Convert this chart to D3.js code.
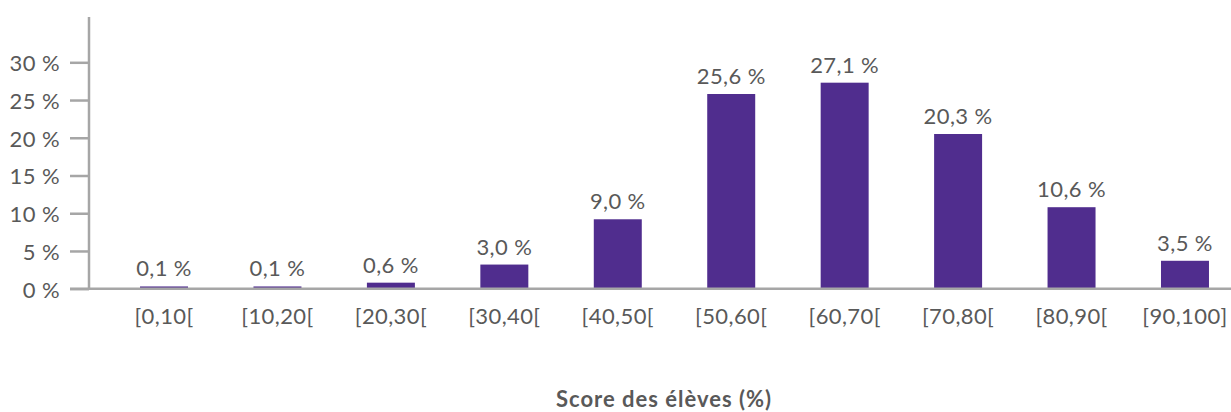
<!DOCTYPE html>
<html><head><meta charset="utf-8">
<script src="https://cdn.jsdelivr.net/npm/d3@7"></script>
<style>body{margin:0;background:#fff}text{font-family:Lato,"Open Sans",sans-serif}</style>
</head><body>
<svg id="c" width="1231" height="412"></svg>
<script>
const categories = ["[0,10[","[10,20[","[20,30[","[30,40[","[40,50[","[50,60[","[60,70[","[70,80[","[80,90[","[90,100]"];
const values = [0.1,0.1,0.6,3.0,9.0,25.6,27.1,20.3,10.6,3.5];
const labels = ["0,1 %","0,1 %","0,6 %","3,0 %","9,0 %","25,6 %","27,1 %","20,3 %","10,6 %","3,5 %"];
const yTicks = [0,5,10,15,20,25,30];
const xTitle = "Score des élèves (%)";

const svg = d3.select("#c");
const grey = "#a6a6a6", txt = "#595959", barCol = "#502d8e";
const F = "Lato,'Open Sans',sans-serif";
const FS = 22;
const y = d3.scaleLinear().domain([0,30]).range([288.7,62.3]);
const x = d3.scaleBand().domain(categories).range([107.3,1241.7]).paddingInner(0.577).paddingOuter(0.2885);

// bars
svg.selectAll("rect.bar").data(values).join("rect")
  .attr("x",(d,i)=>x(categories[i])).attr("width",x.bandwidth())
  .attr("y",d=>y(d)-1.5).attr("height",d=>y(0)-y(d)+1.5)
  .attr("fill",barCol);

// x axis baseline
svg.append("line").attr("x1",70).attr("x2",1231).attr("y1",y(0)).attr("y2",y(0))
  .attr("stroke",grey).attr("stroke-width",2.5);
// y axis
svg.append("line").attr("x1",89).attr("x2",89).attr("y1",17).attr("y2",y(0))
  .attr("stroke",grey).attr("stroke-width",2.5);
const yAxis = d3.axisLeft(y).tickValues(yTicks).tickSize(19).tickFormat(d=>d+" %");
const gy = svg.append("g").attr("transform","translate(89,0)").call(yAxis);
gy.select(".domain").remove();
gy.selectAll(".tick line").attr("stroke",grey).attr("stroke-width",2.5);
gy.selectAll(".tick text").attr("fill",txt).attr("font-size",FS).attr("x",-29).attr("dy","0.38em")
  .style("font-family",F).style("letter-spacing","0.4px");

// x labels
const xAxis = d3.axisBottom(x).tickSize(0);
const gx = svg.append("g").attr("transform",`translate(0,${y(0)})`).call(xAxis);
gx.select(".domain").remove();
gx.selectAll(".tick text").attr("fill",txt).attr("font-size",FS).attr("y",35.5).attr("dy",0)
  .style("font-family",F).style("letter-spacing","0.4px");

// value labels
svg.selectAll("text.val").data(values).join("text").attr("class","val")
  .attr("x",(d,i)=>x(categories[i])+x.bandwidth()/2)
  .attr("y",d=>y(d)-11.5).attr("text-anchor","middle")
  .attr("fill",txt).attr("font-size",FS).style("letter-spacing","0.4px").text((d,i)=>labels[i]);

// title
svg.append("text").attr("x",664).attr("y",407).attr("text-anchor","middle")
  .attr("font-size",FS).attr("font-weight","bold").attr("fill",txt)
  .style("letter-spacing","1px").text(xTitle);
</script>
</body></html>
